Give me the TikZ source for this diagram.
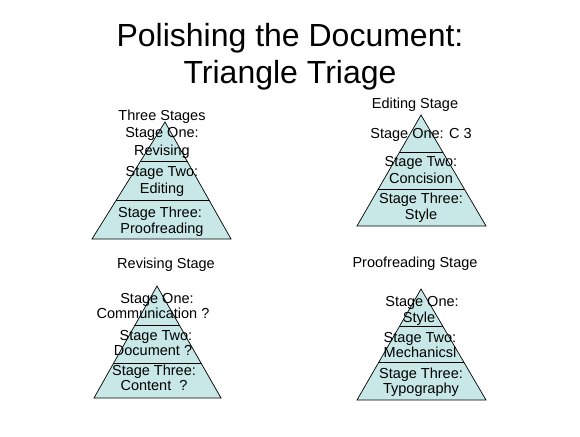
\documentclass[tikz,border=0pt]{standalone}
\usepackage{fontspec}
\setmainfont{Liberation Sans}
\definecolor{trifill}{RGB}{200,232,232}
\begin{document}
\begin{tikzpicture}[x=1pt,y=-1pt,
  lbl/.style={anchor=base,inner sep=0pt,font=\fontsize{14.5}{17}\selectfont},
  ttl/.style={anchor=base,inner sep=0pt,font=\fontsize{32}{36}\selectfont},
  tri/.style={draw=black,line width=0.7pt,fill=trifill,line join=miter},
  div/.style={draw=black,line width=0.7pt}]
\useasboundingbox (0,0) rectangle (580,436);
\fill[white] (0,0) rectangle (580,436);

% Title
\node[ttl] (title1) at (290,47) {Polishing the Document:};
\node[ttl] (title2) at (290,83) {Triangle Triage};

% Triangle 1: Three Stages
\coordinate (t1a) at (165,122);
\coordinate (t1l) at (92,239);
\coordinate (t1r) at (231,239);
\filldraw[tri] (t1a) -- (t1l) -- (t1r) -- cycle;
\begin{scope}
  \clip (t1a) -- (t1l) -- (t1r) -- cycle;
  \coordinate (t1p) at (60,161); \coordinate (t1q) at (260,161);
  \coordinate (t1s) at (60,200); \coordinate (t1t) at (260,200);
  \draw[div] (t1p) -- (t1q);
  \draw[div] (t1s) -- (t1t);
\end{scope}

% Triangle 2: Editing Stage
\coordinate (t2a) at (421,115);
\coordinate (t2l) at (357,226);
\coordinate (t2r) at (486,226);
\filldraw[tri] (t2a) -- (t2l) -- (t2r) -- cycle;
\begin{scope}
  \clip (t2a) -- (t2l) -- (t2r) -- cycle;
  \coordinate (t2p) at (330,152); \coordinate (t2q) at (510,152);
  \coordinate (t2s) at (330,189); \coordinate (t2t) at (510,189);
  \draw[div] (t2p) -- (t2q);
  \draw[div] (t2s) -- (t2t);
\end{scope}

% Triangle 3: Revising Stage
\coordinate (t3a) at (157,286);
\coordinate (t3l) at (94,398);
\coordinate (t3r) at (221,398);
\filldraw[tri] (t3a) -- (t3l) -- (t3r) -- cycle;
\begin{scope}
  \clip (t3a) -- (t3l) -- (t3r) -- cycle;
  \coordinate (t3p) at (60,325); \coordinate (t3q) at (260,325);
  \coordinate (t3s) at (60,363); \coordinate (t3t) at (260,363);
  \draw[div] (t3p) -- (t3q);
  \draw[div] (t3s) -- (t3t);
\end{scope}

% Triangle 4: Proofreading Stage
\coordinate (t4a) at (421,289);
\coordinate (t4l) at (357,400);
\coordinate (t4r) at (486,400);
\filldraw[tri] (t4a) -- (t4l) -- (t4r) -- cycle;
\begin{scope}
  \clip (t4a) -- (t4l) -- (t4r) -- cycle;
  \coordinate (t4p) at (330,326); \coordinate (t4q) at (510,326);
  \coordinate (t4s) at (330,362); \coordinate (t4t) at (510,362);
  \draw[div] (t4p) -- (t4q);
  \draw[div] (t4s) -- (t4t);
\end{scope}

% Labels, triangle 1
\node[lbl] (a0) at (162,120) {Three Stages};
\node[lbl] (a1) at (162,137) {Stage One:};
\node[lbl] (a2) at (162,155) {Revising};
\node[lbl] (a3) at (162,176) {Stage Two:};
\node[lbl] (a4) at (162,193) {Editing};
\node[lbl] (a5) at (160,217) {Stage Three:};
\node[lbl] (a6) at (162,233) {Proofreading};

% Labels, triangle 2
\node[lbl] (b0) at (415,108) {Editing Stage};
\node[lbl] (b1) at (421,138) {Stage One: C 3};
\node[lbl] (b3) at (421,166) {Stage Two:};
\node[lbl] (b4) at (421,183) {Concision};
\node[lbl] (b5) at (421,203) {Stage Three:};
\node[lbl] (b6) at (421,219) {Style};

% Labels, triangle 3
\node[lbl] (c0) at (166,268) {Revising Stage};
\node[lbl] (c1) at (157,303) {Stage One:};
\node[lbl] (c2) at (153,318) {Communication ?};
\node[lbl] (c3) at (156,340) {Stage Two:};
\node[lbl] (c4) at (153,355) {Document ?};
\node[lbl] (c5) at (154,375) {Stage Three:};
\node[lbl] (c6) at (154,390) {Content~~?};

% Labels, triangle 4
\node[lbl] (d0) at (415,267) {Proofreading Stage};
\node[lbl] (d1) at (422,306) {Stage One:};
\node[lbl] (d2) at (419,322) {Style};
\node[lbl] (d3) at (420,342) {Stage Two:};
\node[lbl] (d4) at (420,357) {Mechanicsl};
\node[lbl] (d5) at (421,378) {Stage Three:};
\node[lbl] (d6) at (421,393) {Typography};
\end{tikzpicture}
\end{document}
